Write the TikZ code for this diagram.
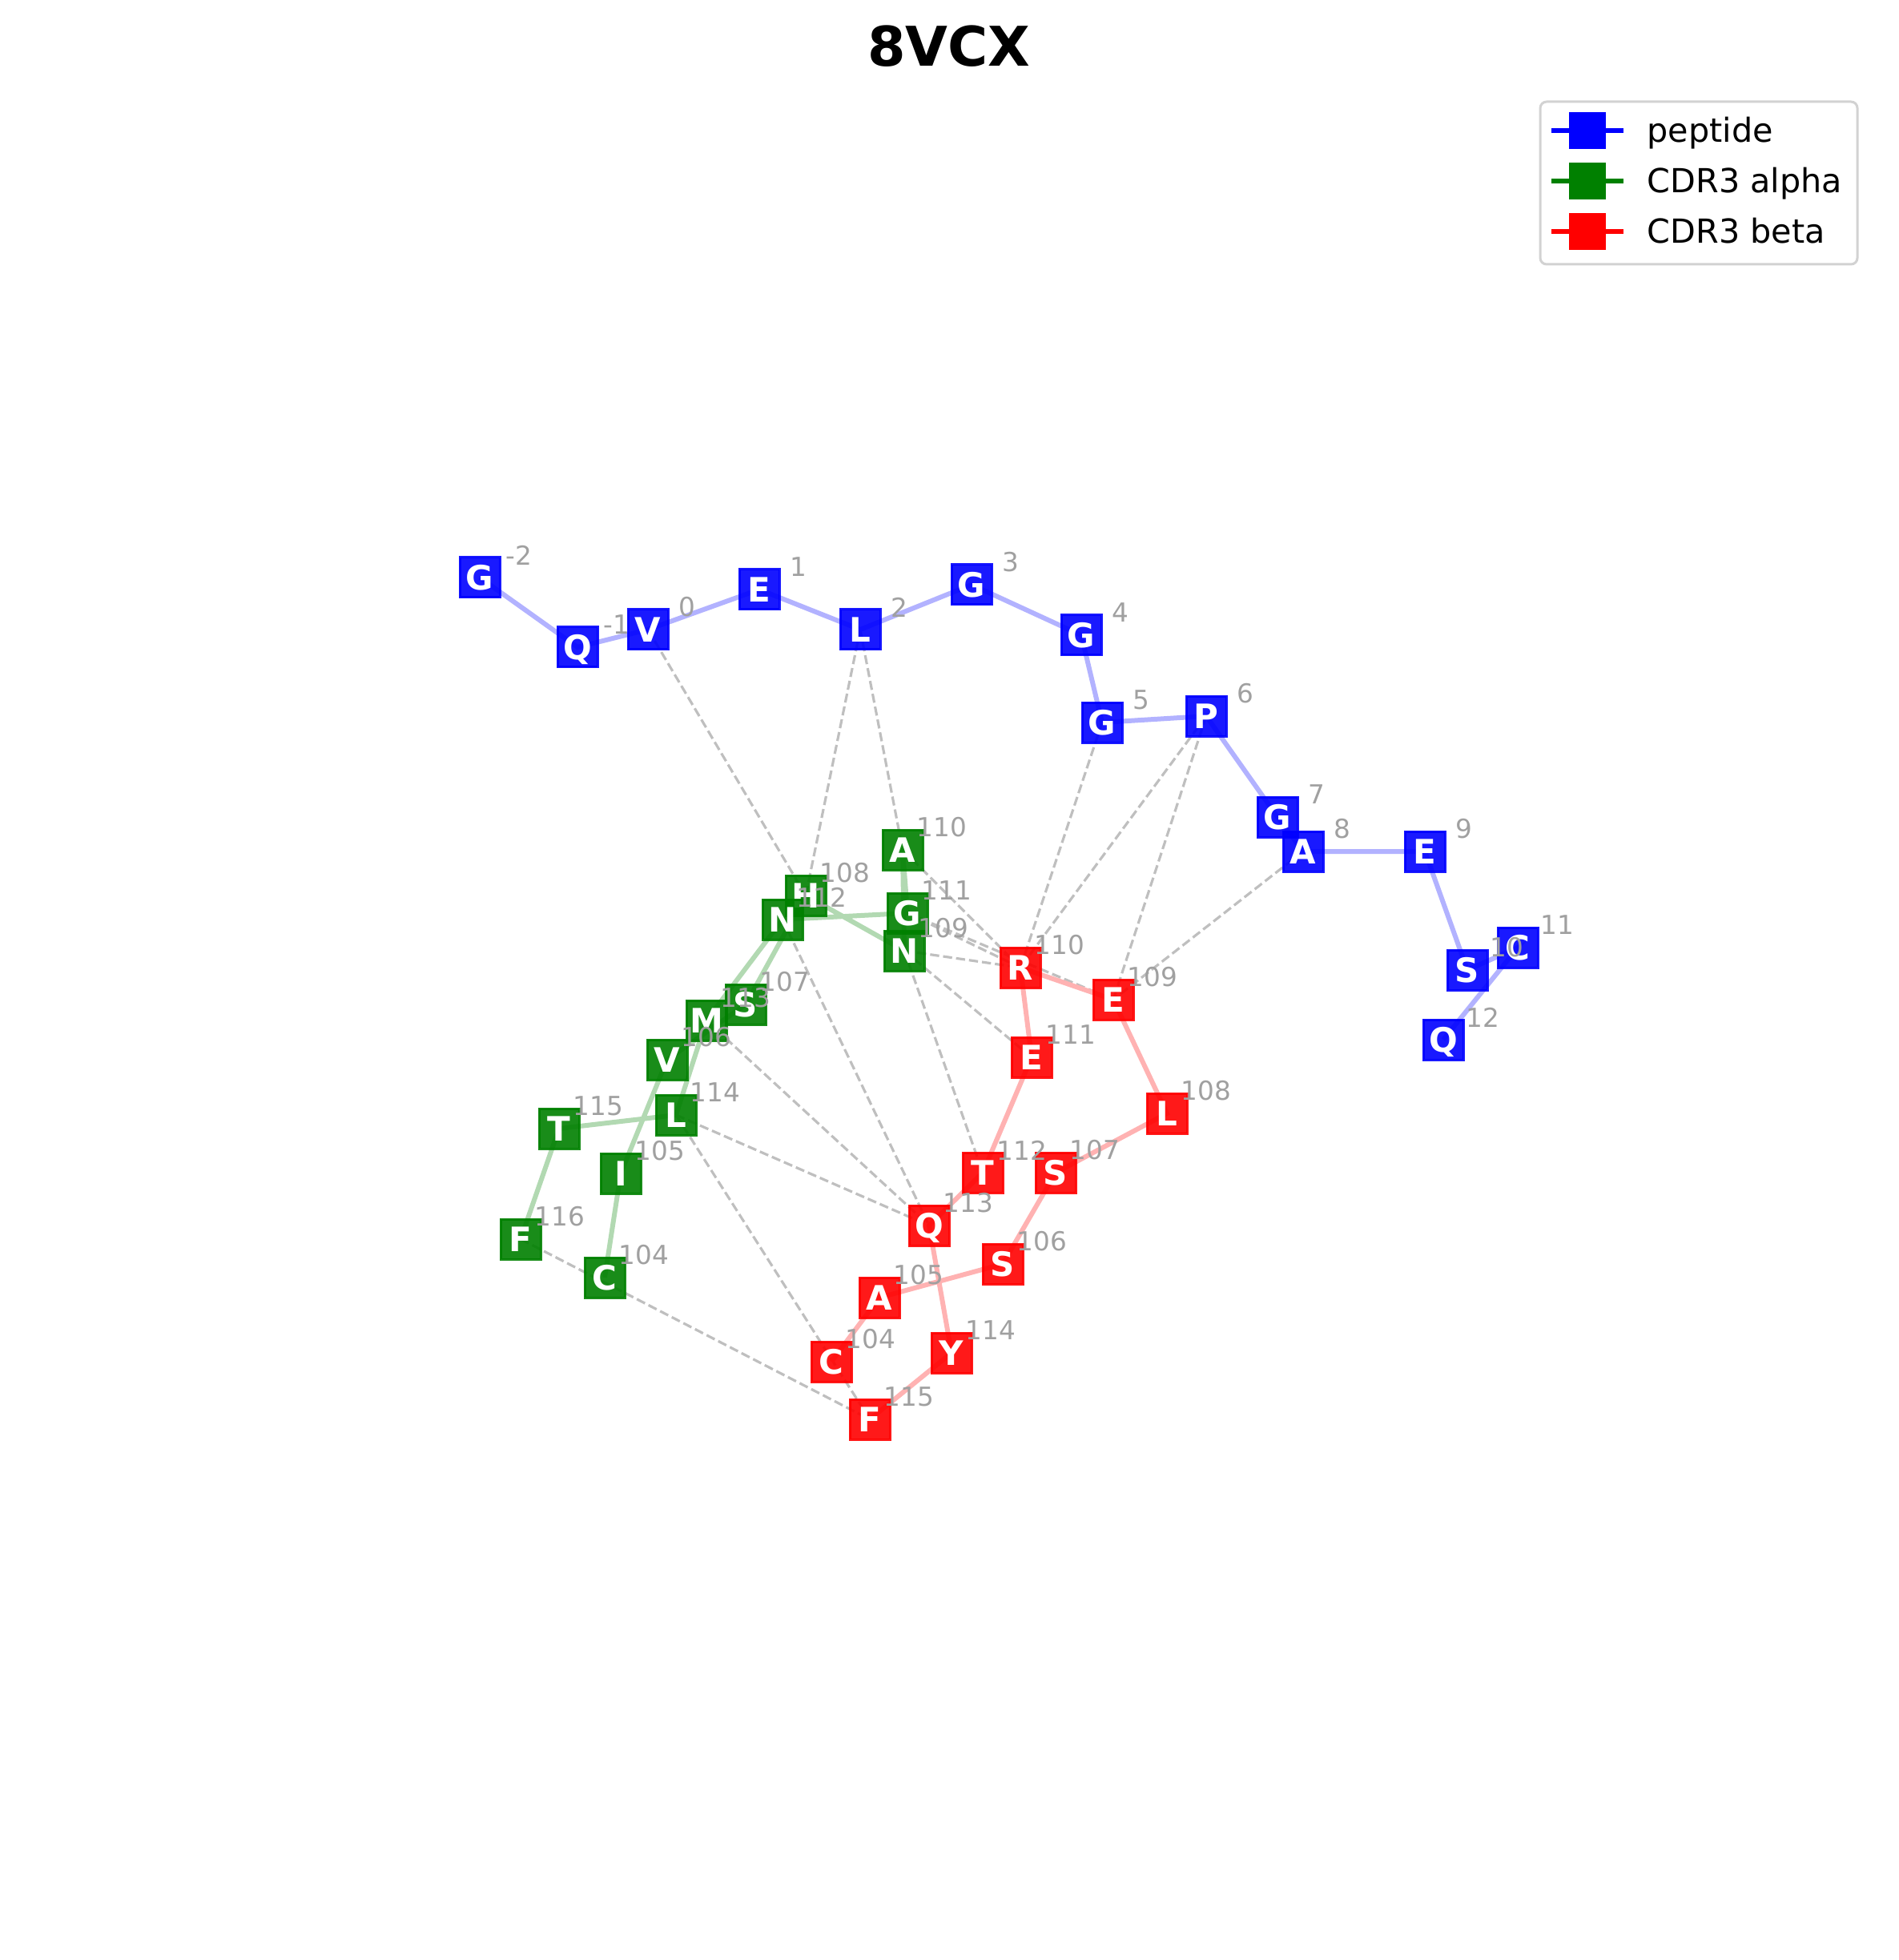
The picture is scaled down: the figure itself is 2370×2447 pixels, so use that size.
\documentclass[tikz,border=0pt]{standalone}
\usepackage{fontspec}
\setmainfont{DejaVu Sans}
\pgfdeclarelayer{dashlayer}
\pgfdeclarelayer{chainlayer}
\pgfdeclarelayer{toplayer}
\pgfsetlayers{dashlayer,chainlayer,main,toplayer}
\definecolor{mblue}{RGB}{0,0,255}
\definecolor{mgreen}{RGB}{0,128,0}
\definecolor{mred}{RGB}{255,0,0}
\definecolor{labgray}{RGB}{160,160,160}
\definecolor{dashgray}{RGB}{191,191,191}
\definecolor{leggray}{RGB}{210,210,210}
\tikzset{
  res/.style={rectangle, minimum width=15pt, minimum height=15pt, inner sep=0pt,
    line width=0.9pt, fill opacity=0.9, draw opacity=0.9, text opacity=1, text=white,
    font=\bfseries\fontsize{12.6}{12.6}\selectfont, text height=9.2pt, text depth=0pt},
  pep/.style={res, fill=mblue, draw=mblue},
  cdra/.style={res, fill=mgreen, draw=mgreen},
  cdrb/.style={res, fill=mred, draw=mred},
  num/.style={text=labgray, font=\fontsize{9.8}{9.8}\selectfont, inner sep=0pt},
  contact/.style={draw=dashgray, line width=0.95pt, dash pattern=on 3.4pt off 1.5pt},
  pepline/.style={draw=mblue!30!white, line width=1.8pt},
  alphaline/.style={draw=mgreen!30!white, line width=1.8pt},
  betaline/.style={draw=mred!30!white, line width=1.8pt},
  legtext/.style={anchor=base west, inner sep=0pt, font=\fontsize{12.4}{12.4}\selectfont},
  legmark/.style={rectangle, minimum size=13.8pt, inner sep=0pt},
}
\newcommand\resnode[5]{%
  \node[#1] (#2) at (#3) {#4};
  \begin{pgfonlayer}{toplayer}
    \node[num] (#2lab) at ([xshift=14.7pt,yshift=8.4pt]#2.center) {#5};
  \end{pgfonlayer}}
\begin{document}
\begin{tikzpicture}[x=0.3pt,y=-0.3pt]
\useasboundingbox (0,0) rectangle (2370,2447);

% title
\node[font=\bfseries\fontsize{20.5}{20.5}\selectfont, inner sep=0pt] (title) at (1185,58) {8VCX};

% peptide
\resnode{pep}{pm2}{599,721}{G}{-2}
\resnode{pep}{pm1}{721,808}{Q}{-1}
\resnode{pep}{p0}{809,786}{V}{0}
\resnode{pep}{p1}{948,736}{E}{1}
\resnode{pep}{p2}{1074,786}{L}{2}
\resnode{pep}{p3}{1213,730}{G}{3}
\resnode{pep}{p4}{1350,793}{G}{4}
\resnode{pep}{p5}{1376,902}{G}{5}
\resnode{pep}{p6}{1506,894}{P}{6}
\resnode{pep}{p7}{1595,1020}{G}{7}
\resnode{pep}{p8}{1627,1063}{A}{8}
\resnode{pep}{p9}{1779,1063}{E}{9}
\resnode{pep}{p10}{1832,1211}{S}{10}
\resnode{pep}{p11}{1895,1183}{C}{11}
\resnode{pep}{p12}{1802,1298}{Q}{12}

% CDR3 alpha
\resnode{cdra}{a104}{755,1595}{C}{104}
\resnode{cdra}{a105}{775,1465}{I}{105}
\resnode{cdra}{a106}{833,1323}{V}{106}
\resnode{cdra}{a113}{882,1274}{M}{113}
\resnode{cdra}{a107}{931,1254}{S}{107}
\resnode{cdra}{a108}{1006,1118}{H}{108}
\resnode{cdra}{a110}{1127,1061}{A}{110}
\resnode{cdra}{a111}{1133,1140}{G}{111}
\resnode{cdra}{a109}{1129,1187}{N}{109}
\resnode{cdra}{a112}{977,1148}{N}{112}
\resnode{cdra}{a114}{844,1392}{L}{114}
\resnode{cdra}{a115}{698,1409}{T}{115}
\resnode{cdra}{a116}{650,1547}{F}{116}

% CDR3 beta
\resnode{cdrb}{b104}{1038,1700}{C}{104}
\resnode{cdrb}{b105}{1098,1620}{A}{105}
\resnode{cdrb}{b106}{1252,1578}{S}{106}
\resnode{cdrb}{b107}{1318,1464}{S}{107}
\resnode{cdrb}{b108}{1457,1390}{L}{108}
\resnode{cdrb}{b109}{1390,1248}{E}{109}
\resnode{cdrb}{b110}{1274,1208}{R}{110}
\resnode{cdrb}{b111}{1288,1320}{E}{111}
\resnode{cdrb}{b112}{1227,1464}{T}{112}
\resnode{cdrb}{b113}{1160,1530}{Q}{113}
\resnode{cdrb}{b114}{1188,1689}{Y}{114}
\resnode{cdrb}{b115}{1086,1772}{F}{115}

% backbones
\begin{pgfonlayer}{chainlayer}
\draw[pepline] (pm2.center) -- (pm1.center) -- (p0.center) -- (p1.center) -- (p2.center)
  -- (p3.center) -- (p4.center) -- (p5.center) -- (p6.center) -- (p7.center) -- (p8.center)
  -- (p9.center) -- (p10.center) -- (p11.center) -- (p12.center);
\draw[alphaline] (a104.center) -- (a105.center) -- (a106.center) -- (a107.center) -- (a108.center)
  -- (a109.center) -- (a110.center) -- (a111.center) -- (a112.center) -- (a113.center)
  -- (a114.center) -- (a115.center) -- (a116.center);
\draw[betaline] (b104.center) -- (b105.center) -- (b106.center) -- (b107.center) -- (b108.center)
  -- (b109.center) -- (b110.center) -- (b111.center) -- (b112.center) -- (b113.center)
  -- (b114.center) -- (b115.center);
\end{pgfonlayer}

% contacts
\begin{pgfonlayer}{dashlayer}
\draw[contact] (p0.center) -- (a108.center);
\draw[contact] (p2.center) -- (a108.center);
\draw[contact] (p2.center) -- (a110.center);
\draw[contact] (p5.center) -- (b110.center);
\draw[contact] (p6.center) -- (b110.center);
\draw[contact] (p6.center) -- (b109.center);
\draw[contact] (p8.center) -- (b109.center);
\draw[contact] (a110.center) -- (b110.center);
\draw[contact] (a111.center) -- (b110.center);
\draw[contact] (a111.center) -- (b109.center);
\draw[contact] (a109.center) -- (b110.center);
\draw[contact] (a109.center) -- (b111.center);
\draw[contact] (a109.center) -- (b112.center);
\draw[contact] (a112.center) -- (b113.center);
\draw[contact] (a113.center) -- (b113.center);
\draw[contact] (a114.center) -- (b113.center);
\draw[contact] (a114.center) -- (b115.center);
\draw[contact] (a116.center) -- (b115.center);
\end{pgfonlayer}

% legend
\node[draw=leggray, line width=0.9pt, rounded corners=2.4pt, fill=white, fill opacity=0.8,
  minimum width=118.8pt, minimum height=60.9pt, inner sep=0pt] (legend) at (2121,228.5) {};
\coordinate (l1a) at (1937,163); \coordinate (l1b) at (2027,163);
\coordinate (l2a) at (1937,226); \coordinate (l2b) at (2027,226);
\coordinate (l3a) at (1937,289); \coordinate (l3b) at (2027,289);
\draw[mblue, line width=2pt] (l1a) -- (l1b);
\draw[mgreen, line width=2pt] (l2a) -- (l2b);
\draw[mred, line width=2pt] (l3a) -- (l3b);
\node[legmark, fill=mblue] (m1) at (1982,163) {};
\node[legmark, fill=mgreen] (m2) at (1982,226) {};
\node[legmark, fill=mred] (m3) at (1982,289) {};
\node[legtext] (t1) at (2056,178) {peptide};
\node[legtext] (t2) at (2056,241) {CDR3 alpha};
\node[legtext] (t3) at (2056,304) {CDR3 beta};
\end{tikzpicture}
\end{document}
